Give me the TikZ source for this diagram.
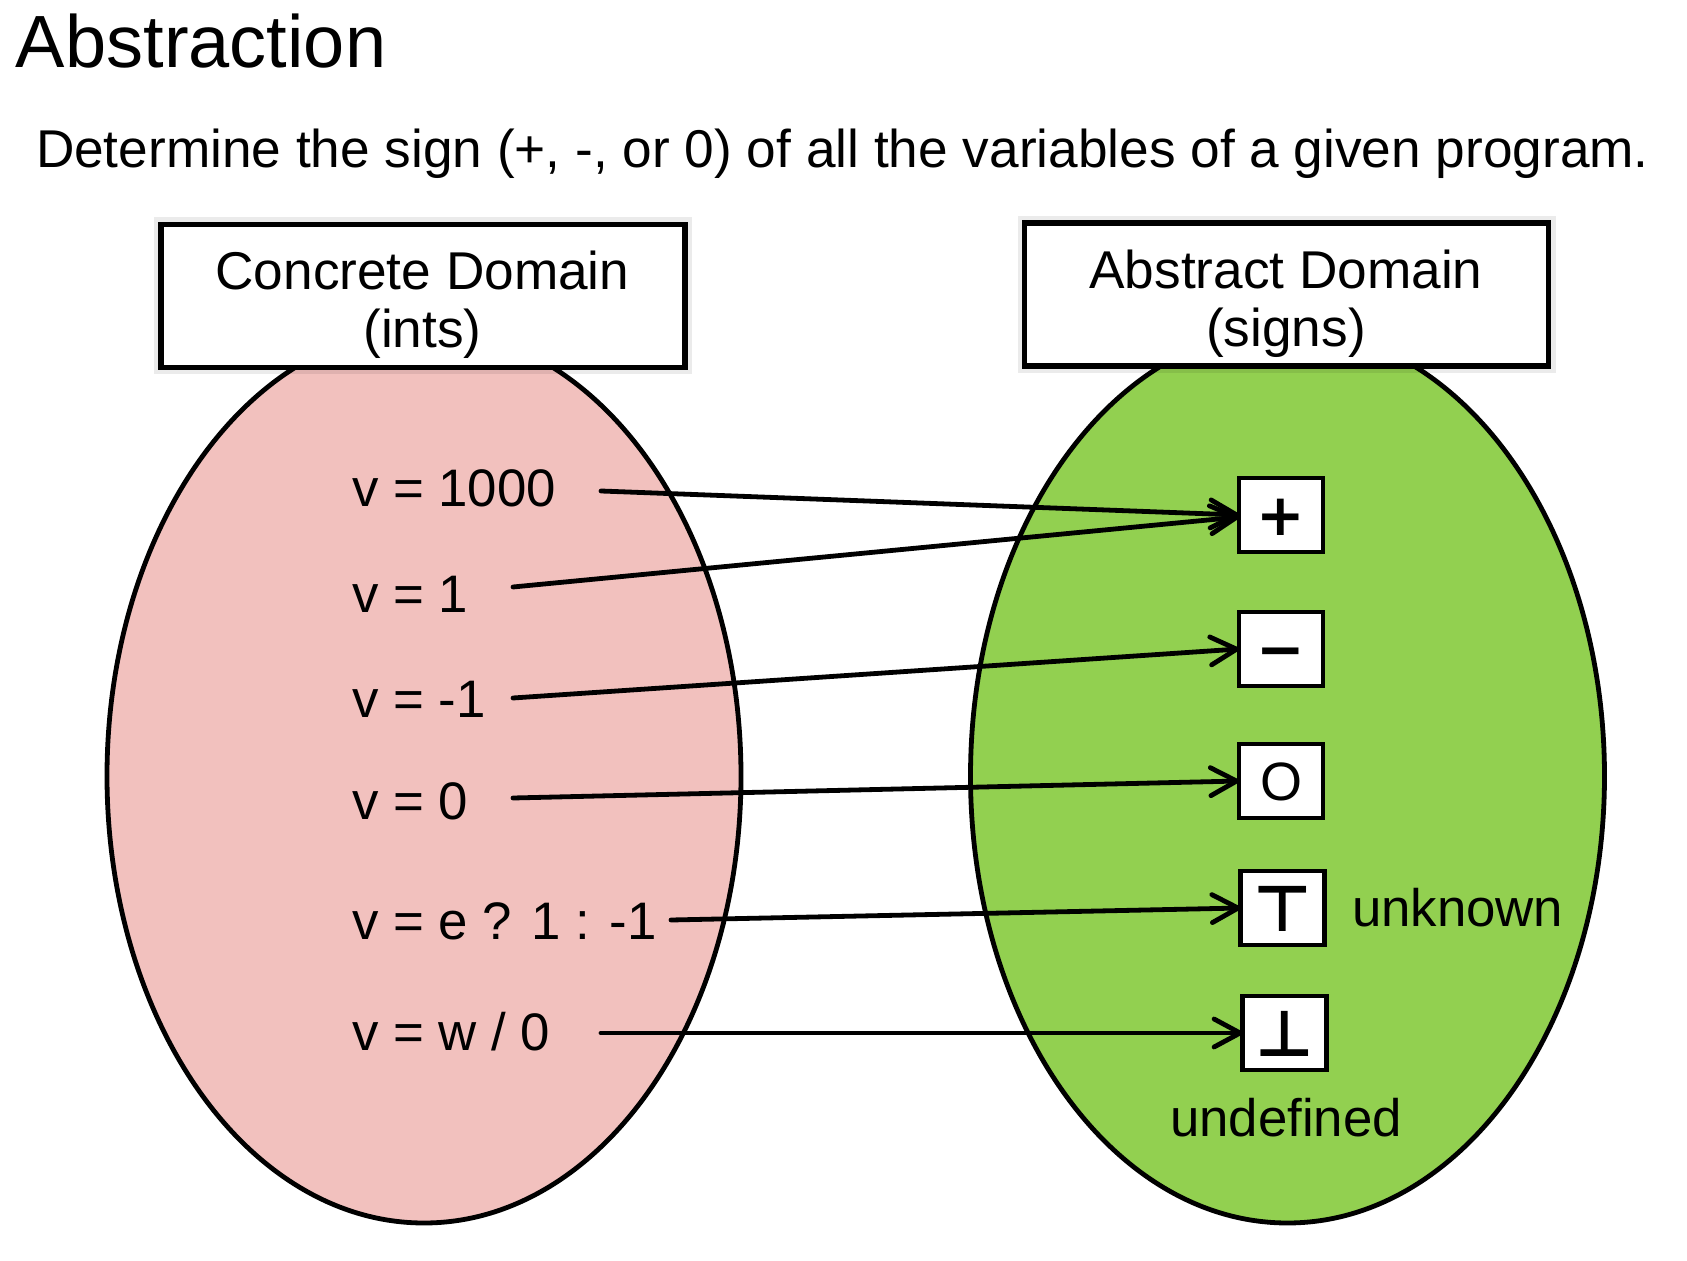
\documentclass[tikz,border=0pt]{standalone}
\usepackage{fontspec}
\setmainfont{Liberation Sans}
\newfontfamily\symfont{DejaVu Sans}
\usetikzlibrary{arrows.meta,shapes.geometric}
\definecolor{concretefill}{HTML}{F2C1BE}
\definecolor{abstractfill}{HTML}{92D050}
\begin{document}
\begin{tikzpicture}[x=0.5pt,y=-0.5pt,
  every node/.style={inner sep=0pt, outer sep=0pt},
  lbl/.style={font=\fontsize{26.4}{29}\selectfont, anchor=base west},
  region/.style={ellipse, draw, line width=2.4pt, minimum width=317pt, minimum height=447pt},
  domainbox/.style={draw, line width=2.6pt, fill=white, minimum width=262pt, minimum height=71.5pt,
    preaction={draw=black, opacity=0.08, line width=7pt}},
  domaintext/.style={font=\fontsize{26.6}{29}\selectfont, align=center, anchor=base},
  signbox/.style={draw, line width=2.4pt, fill=white, minimum width=42pt, minimum height=37pt,
    text height=20.8pt, text depth=0pt},
  conn/.style={line width=2.4pt, line cap=round, -{Straight Barb[length=13pt,width=14pt,round]}}
]
\useasboundingbox[fill=white] (0,0) rectangle (1687,1261);

% titles
\node[font=\fontsize{37}{40}\selectfont, anchor=base west] (title) at (16,68) {Abstraction};
\node[font=\fontsize{26.6}{30}\selectfont, anchor=base west] (subtitle) at (36,168)
  {Determine the sign (+, -, or 0) of all the variables of a given program.};

% domains
\node[region, fill=concretefill] (conc) at (424,776) {};
\node[region, fill=abstractfill] (abst) at (1287.5,776) {};

% concrete values
\node[lbl] (c1) at (352,507) {v = 1000};
\node[lbl] (c2) at (352,613) {v = 1};
\node[lbl] (c3) at (352,718) {v = -1};
\node[lbl] (c4) at (352,819) {v = 0};
\node[lbl] (c5) at (352,939) {v = e ? 1 : -1};
\node[lbl] (c6) at (352,1050) {v = w / 0};

% abstract values
\node[signbox, font=\symfont\bfseries\fontsize{29}{30}\selectfont] (plus) at (1281,515) {+};
\node[signbox, font=\symfont\bfseries\fontsize{29}{30}\selectfont] (minus) at (1281,649) {−};
\node[signbox, font=\fontsize{27}{30}\selectfont, text height=19.3pt] (zero) at (1281,781) {O};
\node[signbox, font=\symfont\bfseries\fontsize{32}{36}\selectfont, text height=23pt] (top) at (1282.5,908) {⊤};
\node[signbox, font=\symfont\bfseries\fontsize{32}{36}\selectfont, text height=23pt] (bot) at (1284.5,1033) {⊥};
\node[lbl] (unk) at (1352,926) {unknown};
\node[font=\fontsize{26.4}{29}\selectfont, anchor=base] (undef) at (1286,1136) {undefined};

% connector starts
\coordinate (s1) at (601,491);
\coordinate (s2) at (513,587);
\coordinate (s3) at (513,698);
\coordinate (s4) at (513,798);
\coordinate (s5) at (671,920);
\coordinate (s6) at (601,1033);

\draw[conn] (s1) -- (plus.west);
\draw[conn] (s2) -- ([yshift=-1pt]plus.west);
\draw[conn] (s3) -- (minus.west);
\draw[conn] (s4) -- (zero.west);
\draw[conn] (s5) -- (top.west);
\draw[conn] (s6) -- (bot.west);

% domain headers
\node[domainbox] (cbox) at (423,296) {};
\node[domaintext] (ctext) at (422.5,348) {Concrete Domain\\(ints)};
\node[domainbox] (abox) at (1286.5,294.5) {};
\node[domaintext] (atext) at (1286,346.7) {Abstract Domain\\(signs)};
\end{tikzpicture}
\end{document}
